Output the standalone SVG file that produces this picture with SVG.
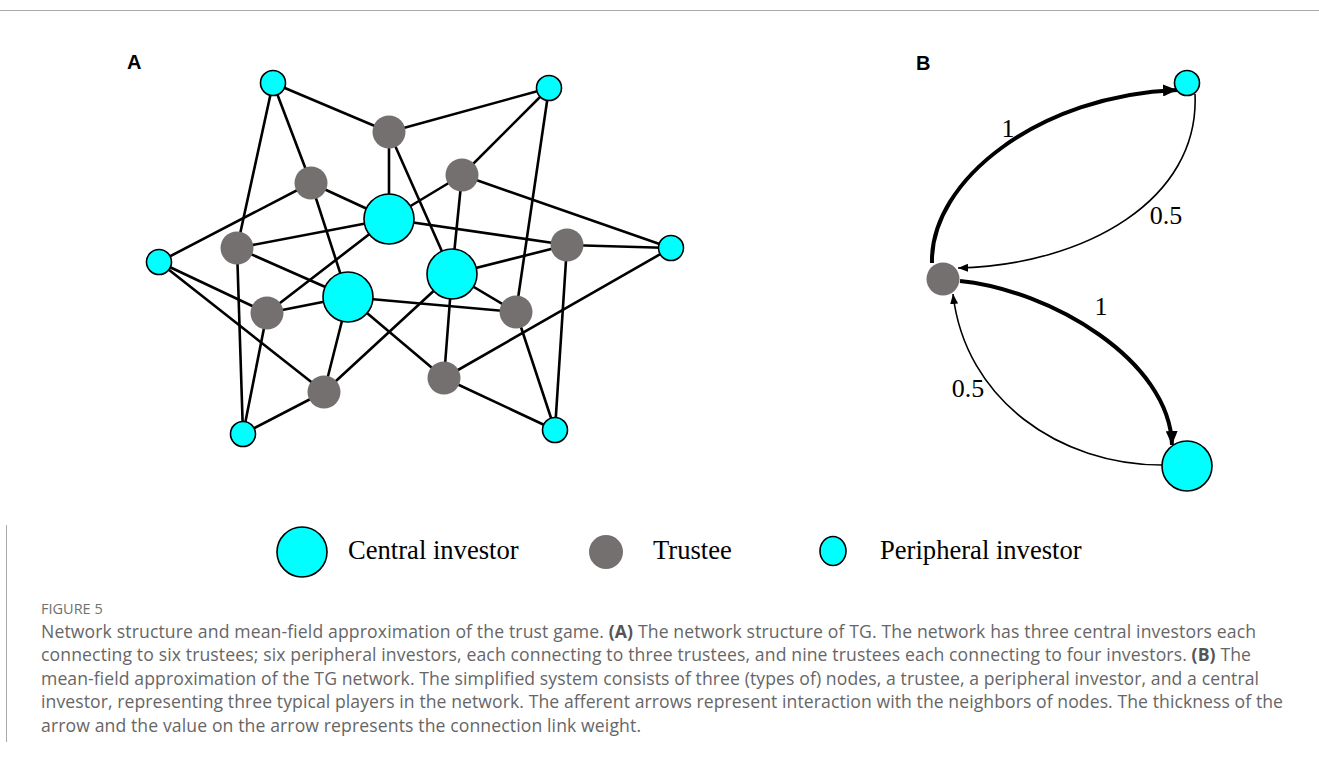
<svg xmlns="http://www.w3.org/2000/svg" width="1319" height="762" viewBox="0 0 1319 762">
<style>
.edge{stroke:#000;stroke-width:2.6;fill:none;stroke-linecap:round}
.cen{fill:#00ffff;stroke:#000;stroke-width:1.6}
.per{fill:#00ffff;stroke:#000;stroke-width:1.6}
.tru{fill:#757070;stroke:none}
.panel{font-family:"Liberation Sans",Arial,sans-serif;font-weight:bold;font-size:20px;fill:#000}
.lab{font-family:"Liberation Serif","Times New Roman",serif;font-size:26px;fill:#000}
.leg{font-family:"Liberation Serif","Times New Roman",serif;font-size:26.6px;fill:#000}
.cap{font-family:"Open Sans","Noto Sans",sans-serif;font-size:17.6px;fill:#666}
.capb{font-weight:bold;fill:#555}
.fig{font-family:"Open Sans","Noto Sans",sans-serif;font-size:14.5px;fill:#707070}
.frame{stroke:#aaa;stroke-width:1;fill:none}
</style>
<defs>
<marker id="ahThick" markerUnits="userSpaceOnUse" markerWidth="16" markerHeight="12" refX="14" refY="6" orient="auto">
<path d="M0,0 L14,6 L0,12 z" fill="#000"/>
</marker>
<marker id="ahThin" markerUnits="userSpaceOnUse" markerWidth="12" markerHeight="8" refX="10" refY="4" orient="auto">
<path d="M0,0 L10,4 L0,8 z" fill="#000"/>
</marker>
</defs>

<line class="frame" x1="0" y1="10.5" x2="1319" y2="10.5"/>
<line class="frame" x1="6.5" y1="525" x2="6.5" y2="742"/>

<text class="panel" x="127" y="69">A</text>
<text class="panel" x="916" y="70">B</text>

<g id="connectors">
<line class="edge" x1="273" y1="83" x2="389" y2="132"/>
<line class="edge" x1="273" y1="83" x2="311" y2="183"/>
<line class="edge" x1="273" y1="83" x2="237" y2="248"/>
<line class="edge" x1="549" y1="88" x2="389" y2="132"/>
<line class="edge" x1="549" y1="88" x2="462" y2="175"/>
<line class="edge" x1="549" y1="88" x2="516" y2="312"/>
<line class="edge" x1="159" y1="262" x2="311" y2="183"/>
<line class="edge" x1="159" y1="262" x2="267" y2="313"/>
<line class="edge" x1="159" y1="262" x2="324" y2="392"/>
<line class="edge" x1="671" y1="248" x2="462" y2="175"/>
<line class="edge" x1="671" y1="248" x2="567" y2="245"/>
<line class="edge" x1="671" y1="248" x2="444" y2="378"/>
<line class="edge" x1="243" y1="434" x2="237" y2="248"/>
<line class="edge" x1="243" y1="434" x2="267" y2="313"/>
<line class="edge" x1="243" y1="434" x2="324" y2="392"/>
<line class="edge" x1="555" y1="430" x2="567" y2="245"/>
<line class="edge" x1="555" y1="430" x2="516" y2="312"/>
<line class="edge" x1="555" y1="430" x2="444" y2="378"/>
<line class="edge" x1="389" y1="219" x2="389" y2="132"/>
<line class="edge" x1="389" y1="219" x2="311" y2="183"/>
<line class="edge" x1="389" y1="219" x2="462" y2="175"/>
<line class="edge" x1="389" y1="219" x2="237" y2="248"/>
<line class="edge" x1="389" y1="219" x2="567" y2="245"/>
<line class="edge" x1="389" y1="219" x2="267" y2="313"/>
<line class="edge" x1="348" y1="297" x2="311" y2="183"/>
<line class="edge" x1="348" y1="297" x2="237" y2="248"/>
<line class="edge" x1="348" y1="297" x2="267" y2="313"/>
<line class="edge" x1="348" y1="297" x2="516" y2="312"/>
<line class="edge" x1="348" y1="297" x2="324" y2="392"/>
<line class="edge" x1="348" y1="297" x2="444" y2="378"/>
<line class="edge" x1="452" y1="274" x2="389" y2="132"/>
<line class="edge" x1="452" y1="274" x2="462" y2="175"/>
<line class="edge" x1="452" y1="274" x2="567" y2="245"/>
<line class="edge" x1="452" y1="274" x2="516" y2="312"/>
<line class="edge" x1="452" y1="274" x2="324" y2="392"/>
<line class="edge" x1="452" y1="274" x2="444" y2="378"/>

<path d="M932,263 C930,180 1040,95 1177,90" fill="none" stroke="#000" stroke-width="4" marker-end="url(#ahThick)"/>
<path d="M1195,94 C1200,200 1085,265 958,268" fill="none" stroke="#000" stroke-width="1.6" marker-end="url(#ahThin)"/>
<path d="M960,281 C1050,290 1170,360 1172,445" fill="none" stroke="#000" stroke-width="4" marker-end="url(#ahThick)"/>
<path d="M1162,465 C1060,465 965,400 953,294" fill="none" stroke="#000" stroke-width="1.6" marker-end="url(#ahThin)"/>
</g>

<g id="edge-labels">
<text class="lab" x="1008" y="137" text-anchor="middle">1</text>
<text class="lab" x="1166" y="224" text-anchor="middle">0.5</text>
<text class="lab" x="1101" y="315" text-anchor="middle">1</text>
<text class="lab" x="968" y="397" text-anchor="middle">0.5</text>
</g>

<g id="node-P1"><circle class="per" cx="273" cy="83" r="12.5"/></g>
<g id="node-P2"><circle class="per" cx="549" cy="88" r="12.5"/></g>
<g id="node-P3"><circle class="per" cx="159" cy="262" r="12.5"/></g>
<g id="node-P4"><circle class="per" cx="671" cy="248" r="12.5"/></g>
<g id="node-P5"><circle class="per" cx="243" cy="434" r="12.5"/></g>
<g id="node-P6"><circle class="per" cx="555" cy="430" r="12.5"/></g>
<g id="node-C1"><circle class="cen" cx="389" cy="219" r="25"/></g>
<g id="node-C2"><circle class="cen" cx="348" cy="297" r="25"/></g>
<g id="node-C3"><circle class="cen" cx="452" cy="274" r="25"/></g>
<g id="node-T1"><circle class="tru" cx="389" cy="132" r="16.5"/></g>
<g id="node-T2"><circle class="tru" cx="311" cy="183" r="16.5"/></g>
<g id="node-T3"><circle class="tru" cx="462" cy="175" r="16.5"/></g>
<g id="node-T4"><circle class="tru" cx="237" cy="248" r="16.5"/></g>
<g id="node-T5"><circle class="tru" cx="567" cy="245" r="16.5"/></g>
<g id="node-T6"><circle class="tru" cx="267" cy="313" r="16.5"/></g>
<g id="node-T7"><circle class="tru" cx="516" cy="312" r="16.5"/></g>
<g id="node-T8"><circle class="tru" cx="324" cy="392" r="16.5"/></g>
<g id="node-T9"><circle class="tru" cx="444" cy="378" r="16.5"/></g>

<g id="node-B-trustee"><circle class="tru" cx="943" cy="279" r="16.5"/></g>
<g id="node-B-peripheral"><circle class="per" cx="1187" cy="83" r="12.5"/></g>
<g id="node-B-central"><circle class="cen" cx="1187" cy="466" r="25"/></g>

<g id="legend">
<circle class="cen" cx="302" cy="552" r="25"/>
<text class="leg" x="348" y="559">Central investor</text>
<circle class="tru" cx="606" cy="552" r="17"/>
<text class="leg" x="653" y="559">Trustee</text>
<ellipse class="per" cx="833" cy="551" rx="13" ry="14.5"/>
<text class="leg" x="880" y="559">Peripheral investor</text>
</g>

<g id="caption">
<text class="fig" x="41" y="614">FIGURE 5</text>
<text class="cap" x="41" y="637.5" textLength="1215" lengthAdjust="spacing">Network structure and mean-field approximation of the trust game. <tspan class="capb">(A)</tspan> The network structure of TG. The network has three central investors each</text>
<text class="cap" x="41" y="661" textLength="1210" lengthAdjust="spacing">connecting to six trustees; six peripheral investors, each connecting to three trustees, and nine trustees each connecting to four investors. <tspan class="capb">(B)</tspan> The</text>
<text class="cap" x="41" y="684.5" textLength="1218" lengthAdjust="spacing">mean-field approximation of the TG network. The simplified system consists of three (types of) nodes, a trustee, a peripheral investor, and a central</text>
<text class="cap" x="41" y="708" textLength="1242" lengthAdjust="spacing">investor, representing three typical players in the network. The afferent arrows represent interaction with the neighbors of nodes. The thickness of the</text>
<text class="cap" x="41" y="731.5" textLength="600" lengthAdjust="spacing">arrow and the value on the arrow represents the connection link weight.</text>
</g>
</svg>
